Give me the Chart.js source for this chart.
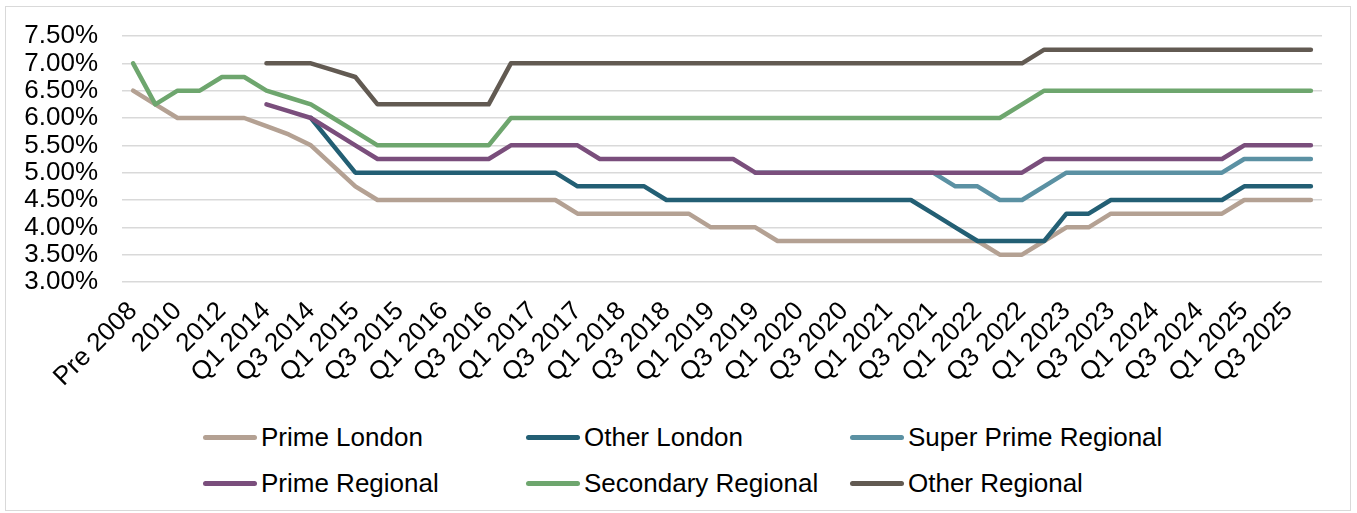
<!DOCTYPE html>
<html>
<head>
<meta charset="utf-8">
<script src="https://cdn.jsdelivr.net/npm/chart.js@4.4.1/dist/chart.umd.min.js"></script>
<style>
    body { margin: 0; background: #fff; font-family: 'Liberation Sans', Arial, sans-serif; }
    #marco { position: absolute; left: 5px; top: 6px; width: 1344px; height: 503px; border: 1.5px solid #d9d9d9; }
    #contenedor { position: absolute; left: 0; top: 0; width: 1357px; height: 400px; }
    #leyenda { position: absolute; left: 203px; top: 414px; display: grid; grid-template-columns: 323px 324px 340px; grid-auto-rows: 46px; }
    .item { display: flex; align-items: center; font-size: 26px; color: #000; white-space: nowrap; }
    .muestra { display: inline-block; flex: 0 0 54px; height: 5px; border-radius: 3px; margin-right: 4px; }
</style>
</head>
<body>
<div id="marco"></div>
<div id="contenedor"><canvas id="yieldsChart"></canvas></div>
<div id="leyenda"></div>

<script>
const etiquetas = [
    'Pre 2008', '2009', '2010', '2011', '2012', '2013',
    'Q1 2014', 'Q2 2014', 'Q3 2014', 'Q4 2014',
    'Q1 2015', 'Q2 2015', 'Q3 2015', 'Q4 2015',
    'Q1 2016', 'Q2 2016', 'Q3 2016', 'Q4 2016',
    'Q1 2017', 'Q2 2017', 'Q3 2017', 'Q4 2017',
    'Q1 2018', 'Q2 2018', 'Q3 2018', 'Q4 2018',
    'Q1 2019', 'Q2 2019', 'Q3 2019', 'Q4 2019',
    'Q1 2020', 'Q2 2020', 'Q3 2020', 'Q4 2020',
    'Q1 2021', 'Q2 2021', 'Q3 2021', 'Q4 2021',
    'Q1 2022', 'Q2 2022', 'Q3 2022', 'Q4 2022',
    'Q1 2023', 'Q2 2023', 'Q3 2023', 'Q4 2023',
    'Q1 2024', 'Q2 2024', 'Q3 2024', 'Q4 2024',
    'Q1 2025', 'Q2 2025', 'Q3 2025', 'Q4 2025'
];

const primeLondon = [
    6.5, 6.25, 6.0, 6.0, 6.0, 6.0,
    5.85, 5.7, 5.5, 5.125,
    4.75, 4.5, 4.5, 4.5,
    4.5, 4.5, 4.5, 4.5,
    4.5, 4.5, 4.25, 4.25,
    4.25, 4.25, 4.25, 4.25,
    4.0, 4.0, 4.0, 3.75,
    3.75, 3.75, 3.75, 3.75,
    3.75, 3.75, 3.75, 3.75,
    3.75, 3.5, 3.5, 3.75,
    4.0, 4.0, 4.25, 4.25,
    4.25, 4.25, 4.25, 4.25,
    4.5, 4.5, 4.5, 4.5
];

const otherLondon = [
    null, null, null, null, null, null,
    null, null, 6.0, 5.5,
    5.0, 5.0, 5.0, 5.0,
    5.0, 5.0, 5.0, 5.0,
    5.0, 5.0, 4.75, 4.75,
    4.75, 4.75, 4.5, 4.5,
    4.5, 4.5, 4.5, 4.5,
    4.5, 4.5, 4.5, 4.5,
    4.5, 4.5, 4.25, 4.0,
    3.75, 3.75, 3.75, 3.75,
    4.25, 4.25, 4.5, 4.5,
    4.5, 4.5, 4.5, 4.5,
    4.75, 4.75, 4.75, 4.75
];

const superPrimeRegional = [
    null, null, null, null, null, null,
    null, null, null, null,
    null, null, null, null,
    null, null, null, null,
    null, null, null, null,
    null, null, null, null,
    null, null, 5.0, 5.0,
    5.0, 5.0, 5.0, 5.0,
    5.0, 5.0, 5.0, 4.75,
    4.75, 4.5, 4.5, 4.75,
    5.0, 5.0, 5.0, 5.0,
    5.0, 5.0, 5.0, 5.0,
    5.25, 5.25, 5.25, 5.25
];

const primeRegional = [
    null, null, null, null, null, null,
    6.25, 6.125, 6.0, 5.75,
    5.5, 5.25, 5.25, 5.25,
    5.25, 5.25, 5.25, 5.5,
    5.5, 5.5, 5.5, 5.25,
    5.25, 5.25, 5.25, 5.25,
    5.25, 5.25, 5.0, 5.0,
    5.0, 5.0, 5.0, 5.0,
    5.0, 5.0, 5.0, 5.0,
    5.0, 5.0, 5.0, 5.25,
    5.25, 5.25, 5.25, 5.25,
    5.25, 5.25, 5.25, 5.25,
    5.5, 5.5, 5.5, 5.5
];

const secondaryRegional = [
    7.0, 6.25, 6.5, 6.5, 6.75, 6.75,
    6.5, 6.375, 6.25, 6.0,
    5.75, 5.5, 5.5, 5.5,
    5.5, 5.5, 5.5, 6.0,
    6.0, 6.0, 6.0, 6.0,
    6.0, 6.0, 6.0, 6.0,
    6.0, 6.0, 6.0, 6.0,
    6.0, 6.0, 6.0, 6.0,
    6.0, 6.0, 6.0, 6.0,
    6.0, 6.0, 6.25, 6.5,
    6.5, 6.5, 6.5, 6.5,
    6.5, 6.5, 6.5, 6.5,
    6.5, 6.5, 6.5, 6.5
];

const otherRegional = [
    null, null, null, null, null, null,
    7.0, 7.0, 7.0, 6.875,
    6.75, 6.25, 6.25, 6.25,
    6.25, 6.25, 6.25, 7.0,
    7.0, 7.0, 7.0, 7.0,
    7.0, 7.0, 7.0, 7.0,
    7.0, 7.0, 7.0, 7.0,
    7.0, 7.0, 7.0, 7.0,
    7.0, 7.0, 7.0, 7.0,
    7.0, 7.0, 7.0, 7.25,
    7.25, 7.25, 7.25, 7.25,
    7.25, 7.25, 7.25, 7.25,
    7.25, 7.25, 7.25, 7.25
];

const series = [
    { nombre: 'Prime London', datos: primeLondon, color: '#b4a193' },
    { nombre: 'Other London', datos: otherLondon, color: '#235f74' },
    { nombre: 'Super Prime Regional', datos: superPrimeRegional, color: '#5b91a3' },
    { nombre: 'Prime Regional', datos: primeRegional, color: '#7a4e7c' },
    { nombre: 'Secondary Regional', datos: secondaryRegional, color: '#6ea66e' },
    { nombre: 'Other Regional', datos: otherRegional, color: '#625a52' }
];

const fuente = "'Liberation Sans', Arial, sans-serif";

document.addEventListener('DOMContentLoaded', function() {
    dibujarGrafico();
});

function dibujarGrafico() {
    const ctx = document.getElementById('yieldsChart').getContext('2d');

    const chart = new Chart(ctx, {
        type: 'line',
        data: {
            labels: etiquetas,
            datasets: series.map((s, i) => ({
                label: s.nombre,
                data: s.datos,
                borderColor: s.color,
                backgroundColor: s.color,
                borderWidth: 4.5,
                borderJoinStyle: 'round',
                borderCapStyle: 'round',
                pointRadius: 0,
                tension: 0,
                fill: false,
                // later series on top, like the original
                order: series.length - i
            }))
        },
        options: {
            responsive: true,
            maintainAspectRatio: false,
            animation: false,
            layout: { padding: { top: 36, right: 35, left: 0, bottom: 0 } },
            plugins: {
                legend: { display: false },
                tooltip: { enabled: false }
            },
            scales: {
                x: {
                    offset: true,
                    grid: { display: false, drawTicks: false },
                    border: { display: false },
                    ticks: {
                        autoSkip: false,
                        minRotation: 45,
                        maxRotation: 45,
                        padding: 14,
                        color: '#000',
                        font: { family: fuente, size: 26 },
                        callback: function(v, i) {
                            return i % 2 === 0 ? etiquetas[i] : '';
                        }
                    },
                    afterFit: function(scale) {
                        scale.height = 118;
                        scale.paddingLeft = 0;
                        scale.paddingRight = 0;
                    }
                },
                y: {
                    min: 3,
                    max: 7.5,
                    grid: { color: '#d9d9d9', lineWidth: 1.5, drawTicks: false },
                    border: { display: false },
                    ticks: {
                        stepSize: 0.5,
                        autoSkip: false,
                        padding: 24,
                        color: '#000',
                        font: { family: fuente, size: 26 },
                        callback: v => v.toFixed(2) + '%'
                    },
                    afterFit: function(scale) {
                        scale.width = 122;
                        scale.paddingTop = 0;
                        scale.paddingBottom = 0;
                    }
                }
            }
        }
    });

    llenarLeyenda(chart);
}

function llenarLeyenda(chart) {
    const cont = document.getElementById('leyenda');
    cont.innerHTML = '';
    chart.data.datasets.forEach(d => {
        const item = `<div class="item">
            <span class="muestra" style="background:${d.borderColor}"></span>${d.label}
        </div>`;
        cont.innerHTML += item;
    });
}
</script>
</body>
</html>
